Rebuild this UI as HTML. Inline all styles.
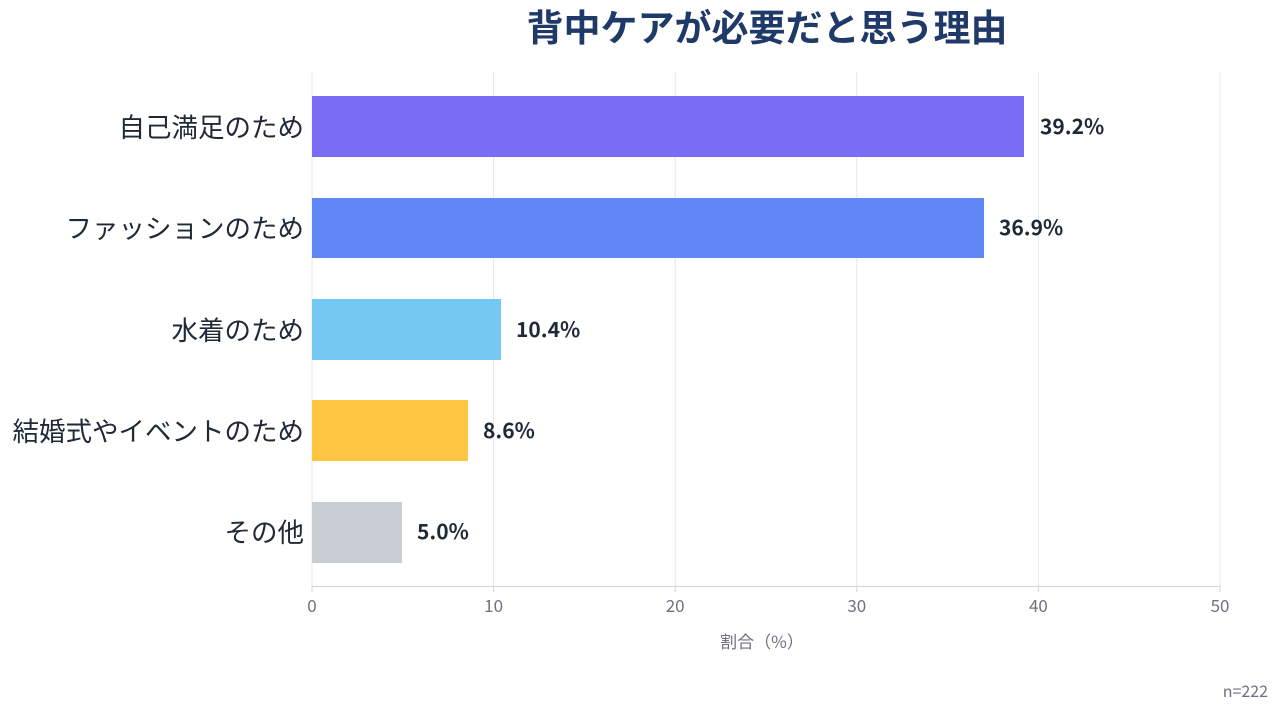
<!DOCTYPE html>
<html><head><meta charset="utf-8"><style>
body{margin:0;background:#fff;width:1280px;height:713px;overflow:hidden;font-family:"Noto Sans CJK JP",sans-serif;}
</style></head><body>
<svg width="1280" height="713" xmlns="http://www.w3.org/2000/svg" font-family="'Noto Sans CJK JP',sans-serif">
<text x="767" y="41" text-anchor="middle" font-size="37" font-weight="bold" fill="#1f3a68">背中ケアが必要だと思う理由</text>
<g stroke="#e5e7eb" stroke-width="1">
<line x1="312" y1="72" x2="312" y2="586"/><line x1="493.6" y1="72" x2="493.6" y2="586"/><line x1="675.2" y1="72" x2="675.2" y2="586"/><line x1="856.8" y1="72" x2="856.8" y2="586"/><line x1="1038.4" y1="72" x2="1038.4" y2="586"/><line x1="1220" y1="72" x2="1220" y2="586"/>
</g>
<line x1="312" y1="586.5" x2="1220" y2="586.5" stroke="#d1d5db"/>
<g stroke="#d1d5db"><line x1="312" y1="586" x2="312" y2="592"/><line x1="493.6" y1="586" x2="493.6" y2="592"/><line x1="675.2" y1="586" x2="675.2" y2="592"/><line x1="856.8" y1="586" x2="856.8" y2="592"/><line x1="1038.4" y1="586" x2="1038.4" y2="592"/><line x1="1220" y1="586" x2="1220" y2="592"/></g>
<rect x="312" y="96" width="712" height="61" fill="#7b6cf6"/>
<rect x="312" y="198" width="672" height="60" fill="#5f87f5"/>
<rect x="312" y="299" width="189" height="61" fill="#74c8f2"/>
<rect x="312" y="400" width="156" height="61" fill="#fdc541"/>
<rect x="312" y="502" width="90" height="61" fill="#c8cdd4"/>
<g font-size="21" font-weight="bold" fill="#1f2937">
<text x="1040" y="134">39.2%</text><text x="999" y="235">36.9%</text><text x="516" y="337">10.4%</text><text x="483" y="438">8.6%</text><text x="417" y="539">5.0%</text>
</g>
<g font-size="26.5" fill="#1f2937" text-anchor="end">
<text x="304" y="137">自己満足のため</text><text x="304" y="238">ファッションのため</text><text x="304" y="340">水着のため</text><text x="304" y="441">結婚式やイベントのため</text><text x="304" y="542">その他</text>
</g>
<g font-size="17" fill="#6b7280" text-anchor="middle">
<text x="312" y="612">0</text><text x="493.6" y="612">10</text><text x="675.2" y="612">20</text><text x="856.8" y="612">30</text><text x="1038.4" y="612">40</text><text x="1220" y="612">50</text>
<text x="762" y="648">割合（%）</text>
</g>
<text x="1268" y="697" text-anchor="end" font-size="16" fill="#6b7280">n=222</text>
</svg>
</body></html>
